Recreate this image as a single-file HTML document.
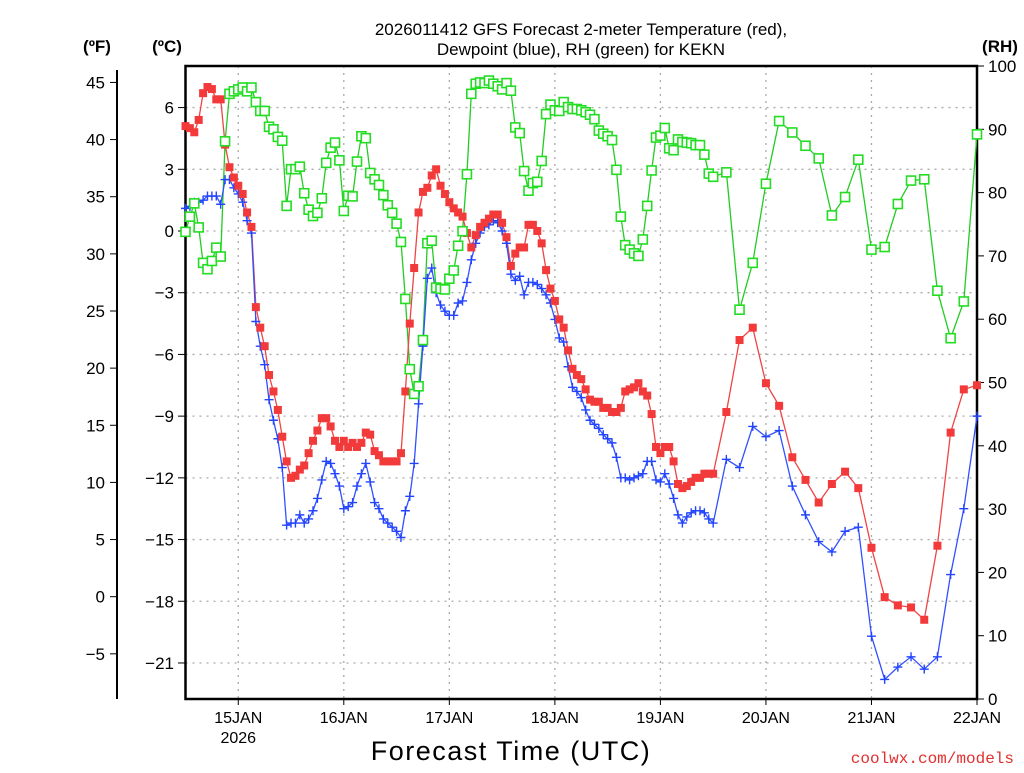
<!DOCTYPE html>
<html><head><meta charset="utf-8"><style>
html,body{margin:0;padding:0;background:#fff;}
svg text{font-family:"Liberation Sans",sans-serif;}
</style></head><body>
<svg id="chart" width="1024" height="768" xmlns="http://www.w3.org/2000/svg">
<rect width="1024" height="768" fill="#fff"/>
<g id="grid"></g>
<g id="axes"></g>
<g id="series"></g>
<text x="581" y="35" font-size="17" text-anchor="middle" fill="#000">2026011412 GFS Forecast 2-meter Temperature (red),</text>
<text x="581" y="55" font-size="17" text-anchor="middle" fill="#000">Dewpoint (blue), RH (green) for KEKN</text>
<text x="97" y="52" font-size="17" font-weight="bold" text-anchor="middle">(ºF)</text>
<text x="167" y="52" font-size="17" font-weight="bold" text-anchor="middle">(ºC)</text>
<text x="1000" y="52" font-size="17" font-weight="bold" text-anchor="middle">(RH)</text>
<text x="511" y="760" font-size="27" text-anchor="middle" letter-spacing="1.5">Forecast Time (UTC)</text>
<text x="1014" y="763" font-size="16" text-anchor="end" fill="#e03030" font-family="Liberation Mono, monospace" style="font-family:'Liberation Mono',monospace">coolwx.com/models</text>
</svg>
<script>
const dayLabels = ["15JAN","16JAN","17JAN","18JAN","19JAN","20JAN","21JAN","22JAN"];
const celsiusTicks = [6,3,0,-3,-6,-9,-12,-15,-18,-21];
const fahrenheitTicks = [45,40,35,30,25,20,15,10,5,0,-5];
const rhTicks = [100,90,80,70,60,50,40,30,20,10,0];
const hours = [];
for (let h = 0; h <= 120; h++) hours.push(h);
for (let h = 123; h <= 180; h += 3) hours.push(h);
const tempC = [5.1,5.0,4.8,5.4,6.7,7.0,6.9,6.4,6.4,4.2,3.1,2.6,2.2,1.8,0.9,0.2,-3.7,-4.7,-5.6,-7.0,-7.8,-8.7,-10.0,-11.2,-12.0,-11.9,-11.6,-11.4,-10.8,-10.2,-9.7,-9.1,-9.1,-9.5,-10.2,-10.5,-10.2,-10.5,-10.3,-10.5,-10.3,-9.8,-9.9,-10.7,-10.9,
-11.2,-11.2,-11.2,-11.2,-10.8,-7.8,-4.5,-1.8,0.9,1.9,2.1,2.7,3.0,2.2,1.8,1.4,1.1,0.9,0.7,-0.1,-0.8,-0.2,0.2,0.4,0.6,0.8,0.8,0.4,-0.3,-1.7,-1.1,-0.8,-0.8,0.3,0.3,0,-0.6,-1.9,-2.8,-3.4,-4.3,-4.7,-5.8,-6.7,-7.0,
-7.2,-7.7,-8.2,-8.3,-8.3,-8.6,-8.6,-8.8,-8.8,-8.6,-7.8,-7.7,-7.6,-7.4,-7.8,-8.0,-8.9,-10.5,-10.8,-10.5,-10.5,-11.2,-12.3,-12.5,-12.4,-12.2,-12.0,-12.0,-11.8,-11.8,-11.8,
-8.8,-5.3,-4.7,-7.4,-8.5,-11.0,-12.1,-13.2,-12.3,-11.7,-12.5,-15.4,-17.8,-18.2,-18.3,-18.9,-15.3,-9.8,-7.7,-7.5];
const dewC = [1.1,1.2,1.4,1.4,1.5,1.7,1.7,1.7,1.3,2.5,2.5,2.1,1.8,1.4,0.5,-0.1,-4.4,-5.6,-6.5,-8.2,-9.2,-10.1,-11.5,-14.3,-14.2,-14.2,-13.8,-14.2,-14.0,-13.6,-13.0,-12.1,-11.2,-11.3,-11.8,-12.4,-13.5,-13.4,-13.2,-12.4,-11.8,-11.3,-12.2,-13.2,-13.5,
-14.0,-14.2,-14.4,-14.6,-14.9,-13.6,-12.9,-11.3,-8.4,-5.6,-2.3,-1.8,-3.0,-3.6,-3.9,-4.1,-4.1,-3.5,-3.4,-2.5,-1.4,-0.6,-0.1,0.2,0.3,0.5,0.4,0,-0.6,-2.1,-2.4,-2.2,-3.1,-2.5,-2.5,-2.6,-2.8,-3.1,-3.5,-4.3,-5.2,-5.4,-6.6,-7.6,-7.8,
-8.1,-8.7,-9.2,-9.4,-9.6,-9.9,-10.1,-10.3,-11.0,-12.0,-12.0,-12.1,-12.0,-11.9,-11.8,-11.2,-11.2,-12.1,-12.2,-11.8,-12.3,-13.0,-13.8,-14.2,-13.9,-13.7,-13.6,-13.6,-13.7,-14.0,-14.2,
-11.1,-11.5,-9.5,-10.0,-9.7,-12.4,-13.8,-15.1,-15.6,-14.6,-14.4,-19.7,-21.8,-21.2,-20.7,-21.3,-20.7,-16.7,-13.5,-9.0];
const rhPct = [73.8,76.2,78.3,74.5,68.9,67.9,69.2,71.3,69.9,88.1,95.6,96.0,96.3,96.6,96.0,96.6,94.3,92.9,92.9,90.4,90.0,88.8,88.2,77.9,83.7,83.7,84.1,79.9,77.3,76.3,76.8,79.1,84.7,87.1,87.9,85.1,77.1,79.5,79.4,84.9,88.9,88.6,83.1,82.1,81.2,
79.6,78.0,76.8,75.1,72.2,63.2,52.1,48.2,49.4,56.7,72.0,72.4,65.0,64.8,64.7,66.4,67.7,71.6,73.9,82.9,95.6,97.2,97.4,97.3,97.7,97.2,96.8,96.3,97.3,96.1,90.3,89.4,83.4,80.3,81.5,81.7,85.0,92.4,93.9,93.0,92.9,94.3,93.5,93.2,93.2,
93.0,92.7,92.3,91.6,89.8,89.3,88.9,88.3,83.6,76.2,71.7,71.0,70.4,70.0,72.6,77.9,83.5,88.7,89.0,90.2,87.0,86.7,88.4,88.0,87.9,87.8,87.5,87.5,86.0,83.0,82.5,
83.2,61.5,68.9,81.4,91.3,89.5,87.4,85.4,76.4,79.3,85.2,71.0,71.4,78.2,81.9,82.1,64.5,57.0,62.8,89.2];

const X0 = 185.5, X1 = 977, Y0 = 66, Y1 = 699;
const xOf = h => X0 + (X1 - X0) * h / 180;
const yC = c => 231 - c * 20.57;
const yF = f => yC((f - 32) * 5 / 9);
const yRH = r => Y1 - (Y1 - Y0) * r / 100;
const NS = "http://www.w3.org/2000/svg";
function mk(tag, attrs, parent) {
  const e = document.createElementNS(NS, tag);
  for (const k in attrs) e.setAttribute(k, attrs[k]);
  parent.appendChild(e);
  return e;
}
const grid = document.getElementById('grid');
const axes = document.getElementById('axes');
const series = document.getElementById('series');

celsiusTicks.forEach(c => {
  const y = yC(c);
  const gl = mk('line', {x1: X0, x2: X1, y1: y, y2: y, stroke: '#aaa', 'stroke-width': 1.3, 'stroke-dasharray': '2,5'}, grid);
  
  
  const tk = mk('line', {x1: 178, x2: X0, y1: y, y2: y, stroke: '#000', 'stroke-width': 1}, axes);
  
  
  const t = mk('text', {x: 174, y: y + 6, 'font-size': 17, 'text-anchor': 'end'}, axes);
  t.textContent = c < 0 ? '\u2212' + Math.abs(c) : String(c);
  
  
});
dayLabels.forEach((d, i) => {
  const x = xOf(12 + 24 * i);
  if (i < dayLabels.length - 1) {
    const gl = mk('line', {x1: x, x2: x, y1: Y0, y2: Y1, stroke: '#aaa', 'stroke-width': 1.3, 'stroke-dasharray': '2,5'}, grid);
    
    
  }
  const tk = mk('line', {x1: x, x2: x, y1: Y1, y2: Y1 + 6, stroke: '#000', 'stroke-width': 1}, axes);
  
  
  const t = mk('text', {x: x, y: 723, 'font-size': 16, 'text-anchor': 'middle'}, axes);
  t.textContent = d;
  
  
});
const yr = mk('text', {x: xOf(12), y: 743, 'font-size': 16, 'text-anchor': 'middle'}, axes);
yr.textContent = '2026';



fahrenheitTicks.forEach(f => {
  const y = yF(f);
  const tk = mk('line', {x1: 110, x2: 117, y1: y, y2: y, stroke: '#000', 'stroke-width': 1}, axes);
  
  
  const t = mk('text', {x: 105, y: y + 6, 'font-size': 17, 'text-anchor': 'end'}, axes);
  t.textContent = f < 0 ? '\u2212' + Math.abs(f) : String(f);
  
  
});
const fl = mk('line', {x1: 117, x2: 117, y1: 70, y2: Y1, stroke: '#000', 'stroke-width': 2}, axes);



rhTicks.forEach(r => {
  const y = yRH(r);
  const tk = mk('line', {x1: X1, x2: X1 + 7, y1: y, y2: y, stroke: '#000', 'stroke-width': 1}, axes);
  
  
  const t = mk('text', {x: 988, y: y + 6, 'font-size': 17, 'text-anchor': 'start'}, axes);
  t.textContent = String(r);
  
  
});
const frame = mk('rect', {x: X0, y: Y0, width: X1 - X0, height: Y1 - Y0, fill: 'none', stroke: '#000', 'stroke-width': 2.5}, axes);



function drawLine(vals, yfn, color, name) {
  const pts = vals.map((v, i) => xOf(hours[i]).toFixed(1) + ',' + yfn(v).toFixed(1)).join(' ');
  const pl = mk('polyline', {points: pts, fill: 'none', stroke: color, 'stroke-width': 1.3}, series);
  
  
}
const gR = mk('g', {}, series), gB = mk('g', {}, series), gG = mk('g', {}, series);
drawLine(rhPct, yRH, '#22cc22', 'rh-line');
drawLine(tempC, yC, '#f04444', 'temperature-line');
drawLine(dewC, yC, '#3050ff', 'dewpoint-line');
series.appendChild(gB); series.appendChild(gR); series.appendChild(gG);
tempC.forEach((v, i) => {
  const m = mk('rect', {x: xOf(hours[i]) - 4, y: yC(v) - 4, width: 8, height: 8, fill: '#f23a3a'}, gR);
  
  
});
dewC.forEach((v, i) => {
  const x = xOf(hours[i]), y = yC(v);
  const m = mk('path', {d: `M${x-4.5},${y}H${x+4.5}M${x},${y-4.5}V${y+4.5}`, stroke: '#2244ff', 'stroke-width': 1.4, fill: 'none'}, gB);
  
  
});
rhPct.forEach((v, i) => {
  const m = mk('rect', {x: xOf(hours[i]) - 4.5, y: yRH(v) - 4.5, width: 9, height: 9, fill: '#fff', stroke: '#22dd22', 'stroke-width': 1.6}, gG);
  
  
});
</script>
</body></html>
